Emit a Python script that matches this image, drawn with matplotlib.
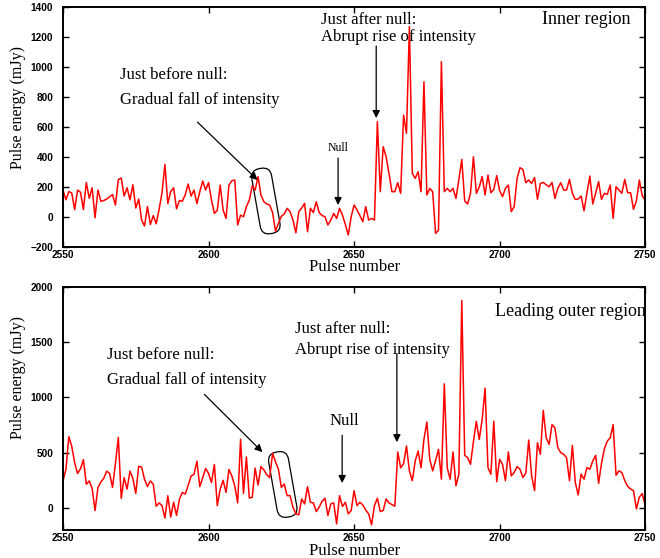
import numpy as np
import matplotlib
matplotlib.use("Agg")
import matplotlib.pyplot as plt
from matplotlib.patches import FancyBboxPatch
from matplotlib.transforms import Affine2D, ScaledTranslation

# pulse numbers 2550 .. 2750, one value per pulse
pulses = np.arange(2550, 2751)

inner_energy = [
    180, 115, 170, 160, 50, 180, 165, 50, 230, 125,
    195, -5, 180, 105, 110, 120, 135, 150, 80, 250,
    260, 140, 195, 115, 215, 60, 120, -20, -60, 70,
    -50, 10, -45, 50, 160, 350, 90, 170, 195, 55,
    110, 105, 150, 220, 140, 180, 90, 170, 240, 180,
    230,
    113, 24, 45, 213, 47, -9, 213, 242, 247, -53,
    13, 2, 69, 113, 207, 180, 269,
    147, 102, 87, 80, 30, -95, -42, 5, 20, 58,
    36, -20, -105, 36, 60, 91, -98, 58, 30, 102,
    30, 10, 2, -53, -20, 24, -9, 58, 13, -50,
    -120, 2, 80, 47, 10, -31, 69, -20, -9, -20,
    636, 169, 469, 402, 291, 169, 169, 229, 158, 680,
    558, 1270, 291, 258, 302, 169, 902, 147, 191, 169,
    -109, -87, 1036, 169, 191, 169, 191,
    124, 250, 384, 107, 87, 158, 402, 158, 200, 269,
    147, 280, 162, 184, 276, 176, 136, 191, 213, 36,
    69, 258, 329, 318, 229, 247, 224, 264, 118, 224,
    231, 215, 202, 231, 124, 191, 229, 180, 180, 251,
    158, 118, 120, 140, 42, 160, 273, 87, 160, 236,
    118, 158, 151, 213, -9, 202, 180, 158, 251, 162,
    162, 51, 109, 247, 142, 113,
]

outer_energy = [
    244, 350, 645, 556, 408, 312, 354, 437, 214, 244,
    176, -24, 185, 235, 268, 333, 312, 185, 400, 637,
    86, 274, 170, 333, 265, 131, 378, 369, 259, 193,
    244, 214, 15, 45, 21, -92, 110, -83, 51, -68,
    80, 140, 125, 205, 289, 304, 423, 193, 274, 357,
    312, 229, 393, 21, 170, 250, 140, 348, 289, 200,
    45, 622, 131, 461, 89, 95,
    360, 207, 374, 344, 300, 275, 494, 416, 350, 186,
    216, 111, 111, 6, -54, -63, 81, 36, 192, 51,
    45, -33, 6, 60, 87, -69, 36, 45, -144, 111,
    12, 51, -54, -24, 156, 21, 51, 27, -20, -54,
    -153, 21, 87, -33, -24, 81, 45, 30, 15,
    506, 363, 400, 560, 335, 246, 425, 515, 363, 620,
    777, 440, 335, 430, 530, 260, 1123, 363, 260, 506,
    200, 305, 1877, 476, 455, 395, 600, 784, 620, 800,
    1084, 365, 305, 784, 237, 440, 395, 246, 506, 290,
    320, 374, 350, 275, 314, 614, 290, 156, 590, 485,
    883, 635, 575, 754, 725, 545, 500, 485, 455, 246,
    566, 230, 117, 305, 260, 365, 350, 425, 476, 222,
    404, 536, 605, 635, 754, 296, 335, 320, 246, 195,
    171, 156, -9, 96, 130, 21,
]

inner_yticks = [-200, 0, 200, 400, 600, 800, 1000, 1200, 1400]
outer_yticks = [0, 500, 1000, 1500, 2000]
xticks = [2550, 2600, 2650, 2700, 2750]

serif = "Liberation Serif"
sans = "Liberation Sans"

fig = plt.figure(figsize=(6.6, 5.58), dpi=100)
ax1 = fig.add_axes([0.0955, 0.5573, 0.882, 0.430])
ax2 = fig.add_axes([0.0955, 0.0502, 0.882, 0.4355])


def blob(ax, cx, cy):
    # hand drawn loop round the last pulses before the null
    trans = (Affine2D().rotate_deg(10) + fig.dpi_scale_trans
             + ScaledTranslation(cx, cy, ax.transData))
    p = FancyBboxPatch((-0.1, -0.33), 0.2, 0.66,
                       boxstyle="round,pad=0,rounding_size=0.09",
                       fill=False, ec="black", lw=0.9, transform=trans)
    ax.add_patch(p)


def arrow(ax, x0, y0, x1, y1):
    ax.annotate("", xy=(x1, y1), xytext=(x0, y0),
                arrowprops=dict(arrowstyle="-|>", color="black", lw=0.9,
                                mutation_scale=11, shrinkA=0, shrinkB=0))


def style(ax, yticks, ylim, label_y, xlabel_y):
    ax.set_xlim(2550, 2750)
    ax.set_ylim(*ylim)
    ax.set_xticks(xticks)
    ax.set_yticks(yticks)
    ax.tick_params(direction="in", top=True, right=True, length=4,
                   width=1, labelsize=7.3)
    ax.tick_params(axis="y", pad=7)
    ax.tick_params(axis="x", pad=2.5)
    for lab in ax.get_xticklabels() + ax.get_yticklabels():
        lab.set_family(sans)
        lab.set_fontweight("bold")
    for sp in ax.spines.values():
        sp.set_linewidth(1.4)
    ax.set_ylabel("Pulse energy (mJy)", fontsize=11.5, family=serif)
    ax.yaxis.set_label_coords(-0.064, label_y)
    ax.set_xlabel("Pulse number", fontsize=12, family=serif)
    ax.xaxis.set_label_coords(0.5, xlabel_y)


# ---- inner region ----
ax1.plot(pulses, inner_energy, color="red", linewidth=1.1)
style(ax1, inner_yticks, (-200, 1400), 0.583, -0.05)
blob(ax1, 2619.7, 107)
ax1.text(2569.7, 947, "Just before null:", fontsize=12, family=serif, va="center")
ax1.text(2569.7, 780, "Gradual fall of intensity", fontsize=12, family=serif, va="center")
arrow(ax1, 2596.2, 633, 2616.8, 247)
ax1.text(2644.5, 460, "Null", fontsize=8.5, family=serif, ha="center", va="center")
arrow(ax1, 2644.5, 393, 2644.5, 80)
ax1.text(2638.6, 1313, "Just after null:", fontsize=12, family=serif, va="center")
ax1.text(2638.6, 1200, "Abrupt rise of intensity", fontsize=12, family=serif, va="center")
arrow(ax1, 2657.6, 1140, 2657.6, 660)
ax1.text(2714.5, 1320, "Inner region", fontsize=13, family=serif, va="center")

# ---- leading outer region ----
ax2.plot(pulses, outer_energy, color="red", linewidth=1.1)
style(ax2, outer_yticks, (-200, 2000), 0.626, -0.054)
blob(ax2, 2625.5, 212)
ax2.text(2565.2, 1387, "Just before null:", fontsize=12, family=serif, va="center")
ax2.text(2565.2, 1162, "Gradual fall of intensity", fontsize=12, family=serif, va="center")
arrow(ax2, 2598.6, 1027, 2618.5, 505)
ax2.text(2646.5, 787, "Null", fontsize=12, family=serif, ha="center", va="center")
arrow(ax2, 2645.9, 658, 2645.9, 225)
ax2.text(2629.7, 1622, "Just after null:", fontsize=12, family=serif, va="center")
ax2.text(2629.7, 1432, "Abrupt rise of intensity", fontsize=12, family=serif, va="center")
arrow(ax2, 2664.7, 1396, 2664.7, 595)
ax2.text(2698.3, 1775, "Leading outer region", fontsize=13, family=serif, va="center")

fig.savefig("out.png", dpi=100)
